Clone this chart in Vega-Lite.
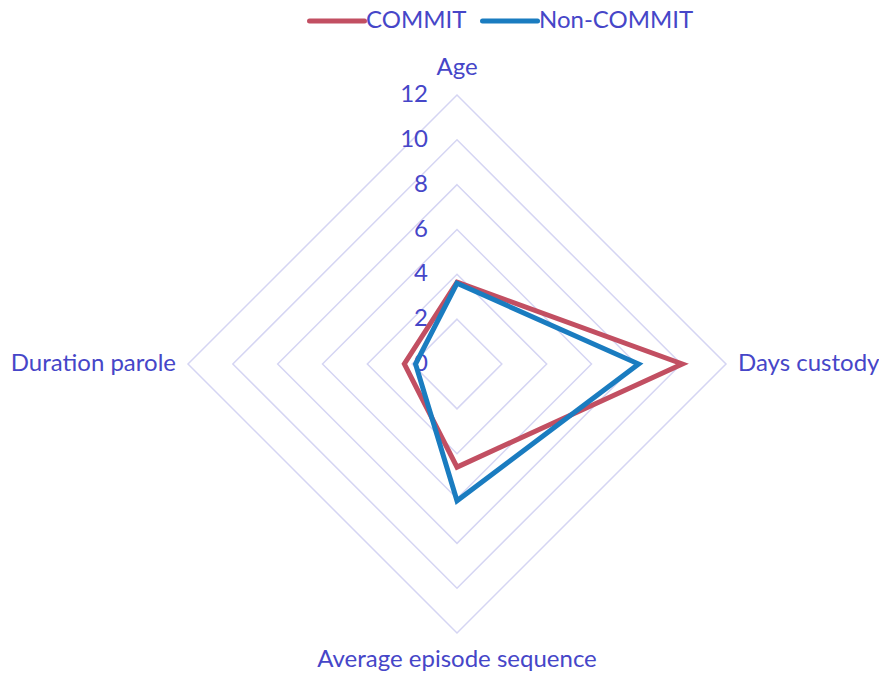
{
  "$schema": "https://vega.github.io/schema/vega-lite/v6.json",
  "width": 538,
  "height": 538,
  "autosize": {"type": "none"},
  "padding": {"left": 188, "top": 95, "right": 153, "bottom": 40},
  "config": {
    "view": {"stroke": null},
    "font": "Lato",
    "legend": {
      "orient": "none",
      "legendX": 119,
      "legendY": -104,
      "direction": "horizontal",
      "symbolType": "stroke",
      "symbolSize": 3025,
      "symbolStrokeWidth": 5,
      "labelFontSize": 24,
      "labelFont": "Lato",
      "labelColor": "#4646c8",
      "labelOffset": -1,
      "columnPadding": 5,
      "titleFontSize": 0
    }
  },
  "datasets": {
    "series": [
      {"series": "COMMIT", "axis": "Age", "idx": 0, "value": 3.65},
      {"series": "COMMIT", "axis": "Days custody", "idx": 1, "value": 10.05},
      {"series": "COMMIT", "axis": "Average episode sequence", "idx": 2, "value": 4.6},
      {"series": "COMMIT", "axis": "Duration parole", "idx": 3, "value": 2.35},
      {"series": "Non-COMMIT", "axis": "Age", "idx": 0, "value": 3.6},
      {"series": "Non-COMMIT", "axis": "Days custody", "idx": 1, "value": 8.1},
      {"series": "Non-COMMIT", "axis": "Average episode sequence", "idx": 2, "value": 6.1},
      {"series": "Non-COMMIT", "axis": "Duration parole", "idx": 3, "value": 1.85}
    ],
    "grid": [
      {"level": 2, "idx": 0}, {"level": 2, "idx": 1}, {"level": 2, "idx": 2}, {"level": 2, "idx": 3},
      {"level": 4, "idx": 0}, {"level": 4, "idx": 1}, {"level": 4, "idx": 2}, {"level": 4, "idx": 3},
      {"level": 6, "idx": 0}, {"level": 6, "idx": 1}, {"level": 6, "idx": 2}, {"level": 6, "idx": 3},
      {"level": 8, "idx": 0}, {"level": 8, "idx": 1}, {"level": 8, "idx": 2}, {"level": 8, "idx": 3},
      {"level": 10, "idx": 0}, {"level": 10, "idx": 1}, {"level": 10, "idx": 2}, {"level": 10, "idx": 3},
      {"level": 12, "idx": 0}, {"level": 12, "idx": 1}, {"level": 12, "idx": 2}, {"level": 12, "idx": 3}
    ],
    "ticks": [
      {"level": 0}, {"level": 2}, {"level": 4}, {"level": 6}, {"level": 8}, {"level": 10}, {"level": 12}
    ],
    "axes": [
      {"axis": "Age", "idx": 0, "pos": "v"},
      {"axis": "Days custody", "idx": 1, "pos": "r"},
      {"axis": "Average episode sequence", "idx": 2, "pos": "v"},
      {"axis": "Duration parole", "idx": 3, "pos": "l"}
    ]
  },
  "layer": [
    {
      "data": {"name": "grid"},
      "transform": [
        {"calculate": "datum.level * sin(datum.idx * PI / 2)", "as": "gx"},
        {"calculate": "datum.level * cos(datum.idx * PI / 2)", "as": "gy"}
      ],
      "mark": {"type": "line", "interpolate": "linear-closed", "stroke": "#d5d5f3", "strokeWidth": 1.5},
      "encoding": {
        "x": {"field": "gx", "type": "quantitative", "scale": {"domain": [-12, 12], "nice": false, "zero": false}, "axis": null},
        "y": {"field": "gy", "type": "quantitative", "scale": {"domain": [-12, 12], "nice": false, "zero": false}, "axis": null},
        "detail": {"field": "level", "type": "nominal"},
        "order": {"field": "idx", "type": "quantitative"}
      }
    },
    {
      "data": {"name": "ticks"},
      "mark": {"type": "text", "align": "right", "baseline": "middle", "dx": -29, "fontSize": 24, "font": "Lato", "color": "#4646c8"},
      "encoding": {
        "x": {"datum": 0, "type": "quantitative", "scale": {"domain": [-12, 12], "nice": false, "zero": false}, "axis": null},
        "y": {"field": "level", "type": "quantitative", "scale": {"domain": [-12, 12], "nice": false, "zero": false}, "axis": null},
        "text": {"field": "level", "type": "quantitative"}
      }
    },
    {
      "data": {"name": "series"},
      "transform": [
        {"calculate": "datum.value * sin(datum.idx * PI / 2)", "as": "px"},
        {"calculate": "datum.value * cos(datum.idx * PI / 2)", "as": "py"}
      ],
      "mark": {"type": "line", "interpolate": "linear-closed", "strokeWidth": 5, "strokeJoin": "miter"},
      "encoding": {
        "x": {"field": "px", "type": "quantitative", "scale": {"domain": [-12, 12], "nice": false, "zero": false}, "axis": null},
        "y": {"field": "py", "type": "quantitative", "scale": {"domain": [-12, 12], "nice": false, "zero": false}, "axis": null},
        "color": {
          "field": "series",
          "type": "nominal",
          "scale": {"domain": ["COMMIT", "Non-COMMIT"], "range": ["#c24f62", "#1a7cc0"]},
          "legend": {
            "title": null,
            "encode": {"symbols": {"update": {"strokeCap": {"value": "round"}}}}
          }
        },
        "order": {"field": "idx", "type": "quantitative"}
      }
    },
    {
      "data": {"name": "axes"},
      "transform": [
        {"filter": "datum.pos == 'v'"},
        {"calculate": "13.2 * cos(datum.idx * PI / 2)", "as": "ly"}
      ],
      "mark": {"type": "text", "align": "center", "baseline": "middle", "fontSize": 24, "font": "Lato", "color": "#4646c8"},
      "encoding": {
        "x": {"datum": 0, "type": "quantitative", "scale": {"domain": [-12, 12], "nice": false, "zero": false}, "axis": null},
        "y": {"field": "ly", "type": "quantitative", "scale": {"domain": [-12, 12], "nice": false, "zero": false}, "axis": null},
        "text": {"field": "axis", "type": "nominal"}
      }
    },
    {
      "data": {"name": "axes"},
      "transform": [{"filter": "datum.pos == 'r'"}],
      "mark": {"type": "text", "align": "left", "baseline": "middle", "dx": 12, "fontSize": 24, "font": "Lato", "color": "#4646c8"},
      "encoding": {
        "x": {"datum": 12, "type": "quantitative", "scale": {"domain": [-12, 12], "nice": false, "zero": false}, "axis": null},
        "y": {"datum": 0, "type": "quantitative", "scale": {"domain": [-12, 12], "nice": false, "zero": false}, "axis": null},
        "text": {"field": "axis", "type": "nominal"}
      }
    },
    {
      "data": {"name": "axes"},
      "transform": [{"filter": "datum.pos == 'l'"}],
      "mark": {"type": "text", "align": "right", "baseline": "middle", "dx": -12, "fontSize": 24, "font": "Lato", "color": "#4646c8"},
      "encoding": {
        "x": {"datum": -12, "type": "quantitative", "scale": {"domain": [-12, 12], "nice": false, "zero": false}, "axis": null},
        "y": {"datum": 0, "type": "quantitative", "scale": {"domain": [-12, 12], "nice": false, "zero": false}, "axis": null},
        "text": {"field": "axis", "type": "nominal"}
      }
    }
  ]
}
